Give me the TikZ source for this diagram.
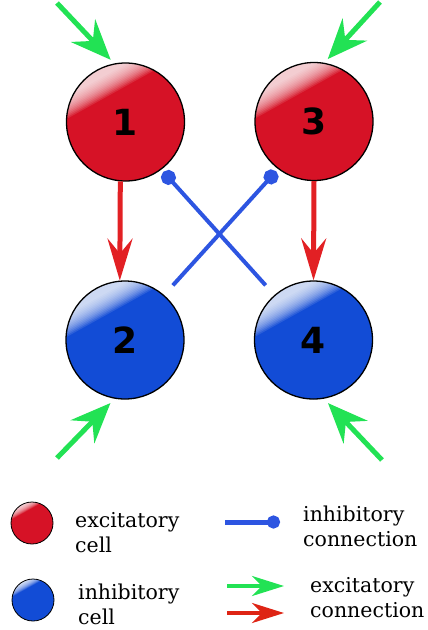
\documentclass[tikz,border=0pt]{standalone}
\usepackage{fontspec}
\setmainfont{DejaVu Serif}
\newfontfamily\numfont{DejaVu Sans}
\usetikzlibrary{arrows.meta,calc}

\definecolor{cellred}{RGB}{214,18,38}
\definecolor{cellblue}{RGB}{18,76,214}
\definecolor{inhblue}{RGB}{45,85,225}
\definecolor{excred}{RGB}{226,32,36}
\definecolor{legred}{RGB}{222,36,20}
\definecolor{excgreen}{RGB}{34,226,84}

% soft glossy highlight in the upper-left cap of a ball of radius #1:
% stacked translucent half-planes whose edges run at 29 degrees
\newcommand\glosscap[1]{%
  \begin{scope}[shift={(path picture bounding box.center)}]
    \foreach \d in {0.62,0.645,...,0.97}{
      \fill[white, opacity=0.11]
        ({#1*(-0.485*\d+0.875*1.2)},{#1*(-0.875*\d-0.485*1.2)}) --
        ({#1*(-0.485*\d-0.875*1.2)},{#1*(-0.875*\d+0.485*1.2)}) --
        ({#1*(-0.485*(\d+1.5)-0.875*1.2)},{#1*(-0.875*(\d+1.5)+0.485*1.2)}) --
        ({#1*(-0.485*(\d+1.5)+0.875*1.2)},{#1*(-0.875*(\d+1.5)-0.485*1.2)}) -- cycle;
    }
  \end{scope}}

\tikzset{
  cell/.style={circle, draw=black, line width=1.3pt, fill=#1,
    minimum size=118pt, inner sep=0pt,
    font=\numfont\bfseries\fontsize{36}{36}\selectfont,
    path picture={\glosscap{59}}},
  legball/.style={circle, draw=black, line width=0.8pt, fill=#1,
    minimum size=42pt, inner sep=0pt,
    path picture={\glosscap{21}}},
  exc/.style={draw=excgreen, line width=5pt,
    -{Stealth[length=40pt, width=33pt, inset=14pt]}},
  excdown/.style={draw=excred, line width=5pt,
    -{Stealth[length=42pt, width=25pt, inset=15pt]}},
  inh/.style={draw=inhblue, line width=4pt, {Circle[length=15pt]}-},
  leginh/.style={draw=inhblue, line width=5pt, -{Circle[length=13pt]}},
  legexc/.style={line width=4pt, -{Stealth[length=32pt, width=20pt, inset=10pt]}},
  % base anchor of a two-line node sits on the second line's baseline
  legtext/.style={anchor=base west, align=left, inner sep=0pt,
    font=\fontsize{20.5}{24.5}\selectfont}
}

\begin{document}
\begin{tikzpicture}[x=1pt, y=-1pt]
  \useasboundingbox (0,0) rectangle (428,630);

  % cells
  \node[cell=cellred]  (c1) at (125.5,122) {1};
  \node[cell=cellred]  (c3) at (314,121.5) {3};
  \node[cell=cellblue] (c2) at (125,340)   {2};
  \node[cell=cellblue] (c4) at (313.5,340) {4};

  % excitatory connections between cells
  \draw[excdown] (c1.265) -- (c2.95);
  \draw[excdown] (c3.270) -- (c4.90);

  % inhibitory connections crossing over
  \draw[inh, shorten <=3pt, shorten >=13pt] (c1.307) -- (c4.131);
  \draw[inh, shorten <=3pt, shorten >=13pt] (c3.233) -- (c2.49);

  % external excitatory inputs
  \coordinate (in1) at (57,3);
  \coordinate (in3) at (380,2);
  \coordinate (in2) at (57,458);
  \coordinate (in4) at (382,460);
  \draw[exc, shorten >=5pt] (in1) -- (c1.101);
  \draw[exc, shorten >=5pt] (in3) -- (c3.80);
  \draw[exc, shorten >=6pt] (in2) -- (c2.260);
  \draw[exc, shorten >=6pt] (in4) -- (c4.280);

  % legend
  \node[legball=cellred]  (lr) at (32,523) {};
  \node[legball=cellblue] (lb) at (33,600) {};
  \node[legtext] (tr) at (75,552) {excitatory\\cell};
  \node[legtext] (tb) at (78,624) {inhibitory\\cell};

  \coordinate (li0) at (225,522);
  \coordinate (li1) at (280,522);
  \draw[leginh] (li0) -- (li1);
  \node[legtext] (ti) at (303,546) {inhibitory\\connection};

  \coordinate (lg0) at (227,586);
  \coordinate (lg1) at (284,586);
  \coordinate (lx0) at (227,613);
  \coordinate (lx1) at (284,613);
  \draw[legexc, draw=excgreen] (lg0) -- (lg1);
  \draw[legexc, draw=legred] (lx0) -- (lx1);
  \node[legtext] (te) at (310,617) {excitatory\\connection};
\end{tikzpicture}
\end{document}
